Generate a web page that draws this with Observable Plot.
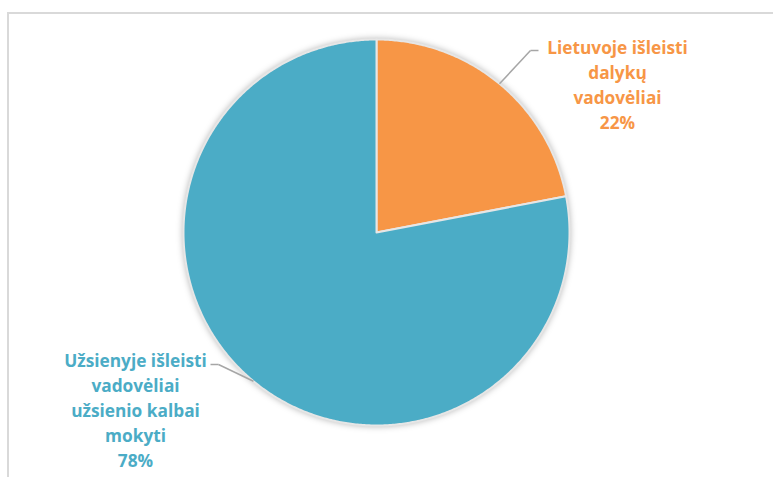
<!DOCTYPE html>
<html>
<head>
<meta charset="utf-8">
<script src="https://cdn.jsdelivr.net/npm/d3@7"></script>
<script src="https://cdn.jsdelivr.net/npm/@observablehq/plot@0.6"></script>
<style>
  body { margin: 0; background: #fff; }
  #wrap { position: relative; width: 773px; height: 477px; overflow: hidden; }
  #frame { position: absolute; left: 7px; top: 12px; width: 900px; height: 700px;
           border-top: 2px solid #d9d9d9; border-left: 2px solid #d9d9d9; pointer-events: none; }
  svg > g[aria-label="line"] { filter: drop-shadow(0 0 3px rgba(0,0,0,0.28)); }
</style>
</head>
<body>
<div id="wrap"><div id="frame"></div></div>
<script>
// ---- data ----
const categories = ["Lietuvoje išleisti dalykų vadovėliai", "Užsienyje išleisti vadovėliai užsienio kalbai mokyti"];
const values = [22, 78];
const labelLines = [["Lietuvoje išleisti", "dalykų", "vadovėliai"], ["Užsienyje išleisti", "vadovėliai", "užsienio kalbai", "mokyti"]];
const colors = ["#F79646", "#4BACC6"];

// ---- layout (pixels) ----
const W = 773, H = 477, CX = 376, CY = 232, R = 193;
const labelAt = [[617, 83], [135, 408.5]];
const elbows = [[[538, 50], [530, 50]], [[210, 364], [218, 364]]];
const toX = px => (px - CX) / R, toY = py => (CY - py) / R;

// ---- geometry from values ----
const total = d3.sum(values);
const slices = [];
let acc = 0;
const pts = [];
values.forEach((v, i) => {
  const a0 = acc / total * 2 * Math.PI, a1 = (acc + v) / total * 2 * Math.PI;
  acc += v;
  const n = Math.max(2, Math.ceil((a1 - a0) / (Math.PI / 360)));
  pts.push({k: i, x: 0, y: 0});
  for (let j = 0; j <= n; j++) {
    const a = a0 + (a1 - a0) * j / n;
    pts.push({k: i, x: Math.sin(a), y: Math.cos(a)});
  }
  pts.push({k: i, x: 0, y: 0});
  slices.push({i, mid: (a0 + a1) / 2});
});

const labels = slices.map(s => ({
  i: s.i,
  x: toX(labelAt[s.i][0]), y: toY(labelAt[s.i][1]),
  text: labelLines[s.i].join("\n") + "\n" + values[s.i] + "%"
}));
const links = [];
slices.forEach(s => {
  const [e0, e1] = elbows[s.i];
  links.push({x1: toX(e0[0]), y1: toY(e0[1]), x2: toX(e1[0]), y2: toY(e1[1])});
  links.push({x1: toX(e1[0]), y1: toY(e1[1]), x2: Math.sin(s.mid), y2: Math.cos(s.mid)});
});

const chart = Plot.plot({
  width: W, height: H,
  marginTop: 0, marginBottom: 0, marginLeft: 0, marginRight: 0,
  x: {domain: [toX(0), toX(W)], axis: null},
  y: {domain: [toY(H), toY(0)], axis: null},
  style: {background: "transparent"},
  marks: [
    Plot.line(pts, {x: "x", y: "y", z: "k", fill: d => colors[d.k], stroke: "#e6e6e6", strokeWidth: 2, strokeLinejoin: "round", curve: "linear"}),
    Plot.link(links, {x1: "x1", y1: "y1", x2: "x2", y2: "y2", stroke: "#a6a6a6", strokeWidth: 1.5}),
    Plot.text(labels, {x: "x", y: "y", text: "text", fill: d => colors[d.i], fontSize: 17.3, fontWeight: "bold",
      fontFamily: "'Open Sans', Lato, sans-serif", lineHeight: 1.445, textAnchor: "middle"})
  ]
});
document.getElementById("wrap").insertBefore(chart, document.getElementById("frame"));
</script>
</body>
</html>
